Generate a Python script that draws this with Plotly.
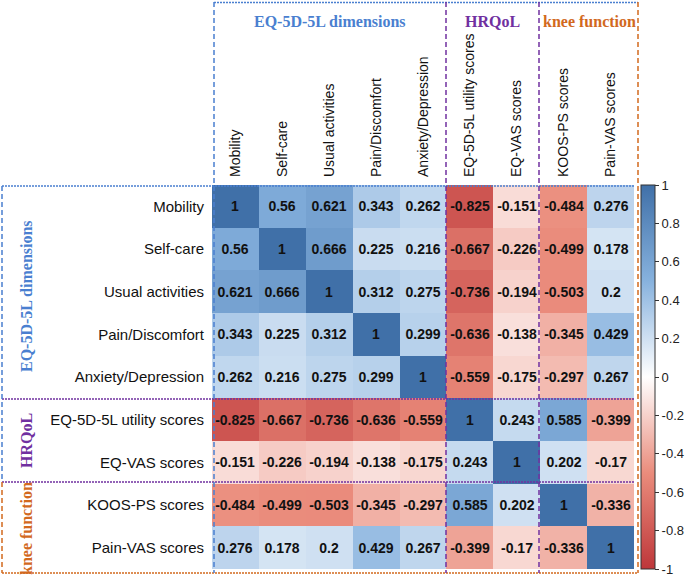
import plotly.graph_objects as go

labels = ["Mobility", "Self-care", "Usual activities", "Pain/Discomfort", "Anxiety/Depression",
          "EQ-5D-5L utility scores", "EQ-VAS scores", "KOOS-PS scores", "Pain-VAS scores"]

mobility = [1, 0.56, 0.621, 0.343, 0.262, -0.825, -0.151, -0.484, 0.276]
self_care = [0.56, 1, 0.666, 0.225, 0.216, -0.667, -0.226, -0.499, 0.178]
usual = [0.621, 0.666, 1, 0.312, 0.275, -0.736, -0.194, -0.503, 0.2]
pain = [0.343, 0.225, 0.312, 1, 0.299, -0.636, -0.138, -0.345, 0.429]
anxiety = [0.262, 0.216, 0.275, 0.299, 1, -0.559, -0.175, -0.297, 0.267]
eq5d_util = [-0.825, -0.667, -0.736, -0.636, -0.559, 1, 0.243, 0.585, -0.399]
eq_vas = [-0.151, -0.226, -0.194, -0.138, -0.175, 0.243, 1, 0.202, -0.17]
koos_ps = [-0.484, -0.499, -0.503, -0.345, -0.297, 0.585, 0.202, 1, -0.336]
pain_vas = [0.276, 0.178, 0.2, 0.429, 0.267, -0.399, -0.17, -0.336, 1]

z = [mobility, self_care, usual, pain, anxiety, eq5d_util, eq_vas, koos_ps, pain_vas]
text = [[f"{v:g}" for v in row] for row in z]

cbar_vals = [1, 0.8, 0.6, 0.4, 0.2, 0, -0.2, -0.4, -0.6, -0.8, -1]
cbar_text = [f"{v:g}" for v in cbar_vals]

colorscale = [
    [0.0, "rgb(190,55,58)"],
    [0.25, "rgb(234,140,124)"],
    [0.5, "rgb(255,255,255)"],
    [0.75, "rgb(135,178,222)"],
    [1.0, "rgb(64,112,168)"],
]

W, H = 685, 579
L, R, T, B = 212, 51, 185, 10
PW, PH = W - L - R, H - T - B


def px(x):
    return (x - L) / PW


def py(y):
    return (H - B - y) / PH


fig = go.Figure(go.Heatmap(
    z=z, x=labels, y=labels, text=text, texttemplate="%{text}",
    textfont=dict(family="Liberation Sans, Arial", size=14, color="#111111", weight="bold"),
    colorscale=colorscale, zmin=-1, zmax=1,
    colorbar=dict(
        x=px(641), xanchor="left", xref="paper", xpad=0, ypad=0,
        y=0, yanchor="bottom", len=1,
        thickness=14, outlinewidth=1, outlinecolor="#333333",
        tickvals=cbar_vals, ticktext=cbar_text, ticks="outside", ticklen=4,
        tickcolor="#333333", tickfont=dict(family="Liberation Sans, Arial", size=13, color="#222222"),
    ),
    hoverinfo="skip",
))

BLUE = "#4a7fd0"
PURPLE = "#7030a0"
ORANGE = "#d2691e"

shapes = []


def line(x0, y0, x1, y1, color, dash):
    shapes.append(dict(type="line", xref="paper", yref="paper",
                       x0=px(x0), y0=py(y0), x1=px(x1), y1=py(y1),
                       line=dict(color=color, width=1.5, dash=dash)))


DOT = "2px,1px"
DASH = "5px,3px"
line(214, 2.5, 638, 2.5, BLUE, DOT)
line(2, 186, 634, 186, BLUE, DOT)
line(2, 399, 634, 399, PURPLE, DOT)
line(2, 482, 634, 482, PURPLE, DOT)
line(2, 573, 638, 573, ORANGE, DOT)
line(214, 2, 214, 573, BLUE, DASH)
line(446, 2, 446, 573, PURPLE, DASH)
line(539, 2, 539, 573, PURPLE, DASH)
line(638, 2, 638, 573, ORANGE, DASH)
line(2, 186, 2, 482, BLUE, DASH)
line(2, 482, 2, 573, ORANGE, DASH)

serif = "Liberation Serif, Times New Roman, serif"
annotations = [
    dict(text="<b>EQ-5D-5L dimensions</b>", x=px(330), y=py(21), font=dict(color=BLUE)),
    dict(text="<b>HRQoL</b>", x=px(492), y=py(21), font=dict(color=PURPLE)),
    dict(text="<b>knee function</b>", x=px(589), y=py(21), font=dict(color=ORANGE)),
    dict(text="<b>EQ-5D-5L dimensions</b>", x=px(26), y=py(296), textangle=-90, font=dict(color=BLUE)),
    dict(text="<b>HRQoL</b>", x=px(26), y=py(441), textangle=-90, font=dict(color=PURPLE)),
    dict(text="<b>knee function</b>", x=px(26), y=py(529), textangle=-90, font=dict(color=ORANGE)),
]
for a in annotations:
    a.update(xref="paper", yref="paper", showarrow=False, xanchor="center", yanchor="middle")
    a["font"].update(family=serif, size=16)

fig.update_layout(
    width=W, height=H, margin=dict(l=L, r=R, t=T, b=B, autoexpand=False),
    paper_bgcolor="white", plot_bgcolor="white",
    shapes=shapes, annotations=annotations,
    xaxis=dict(side="top", tickangle=-90, ticks="", showgrid=False, zeroline=False,
               tickfont=dict(family="Liberation Sans, Arial", size=14, color="#111111"),
               ticklabelstandoff=7),
    yaxis=dict(autorange="reversed", ticks="", showgrid=False, zeroline=False,
               tickfont=dict(family="Liberation Sans, Arial", size=15, color="#111111"),
               ticklabelstandoff=7),
)

fig.write_html("out.html", config={"displayModeBar": False},
               post_script="document.body.style.margin='0';document.body.style.overflow='hidden';")
